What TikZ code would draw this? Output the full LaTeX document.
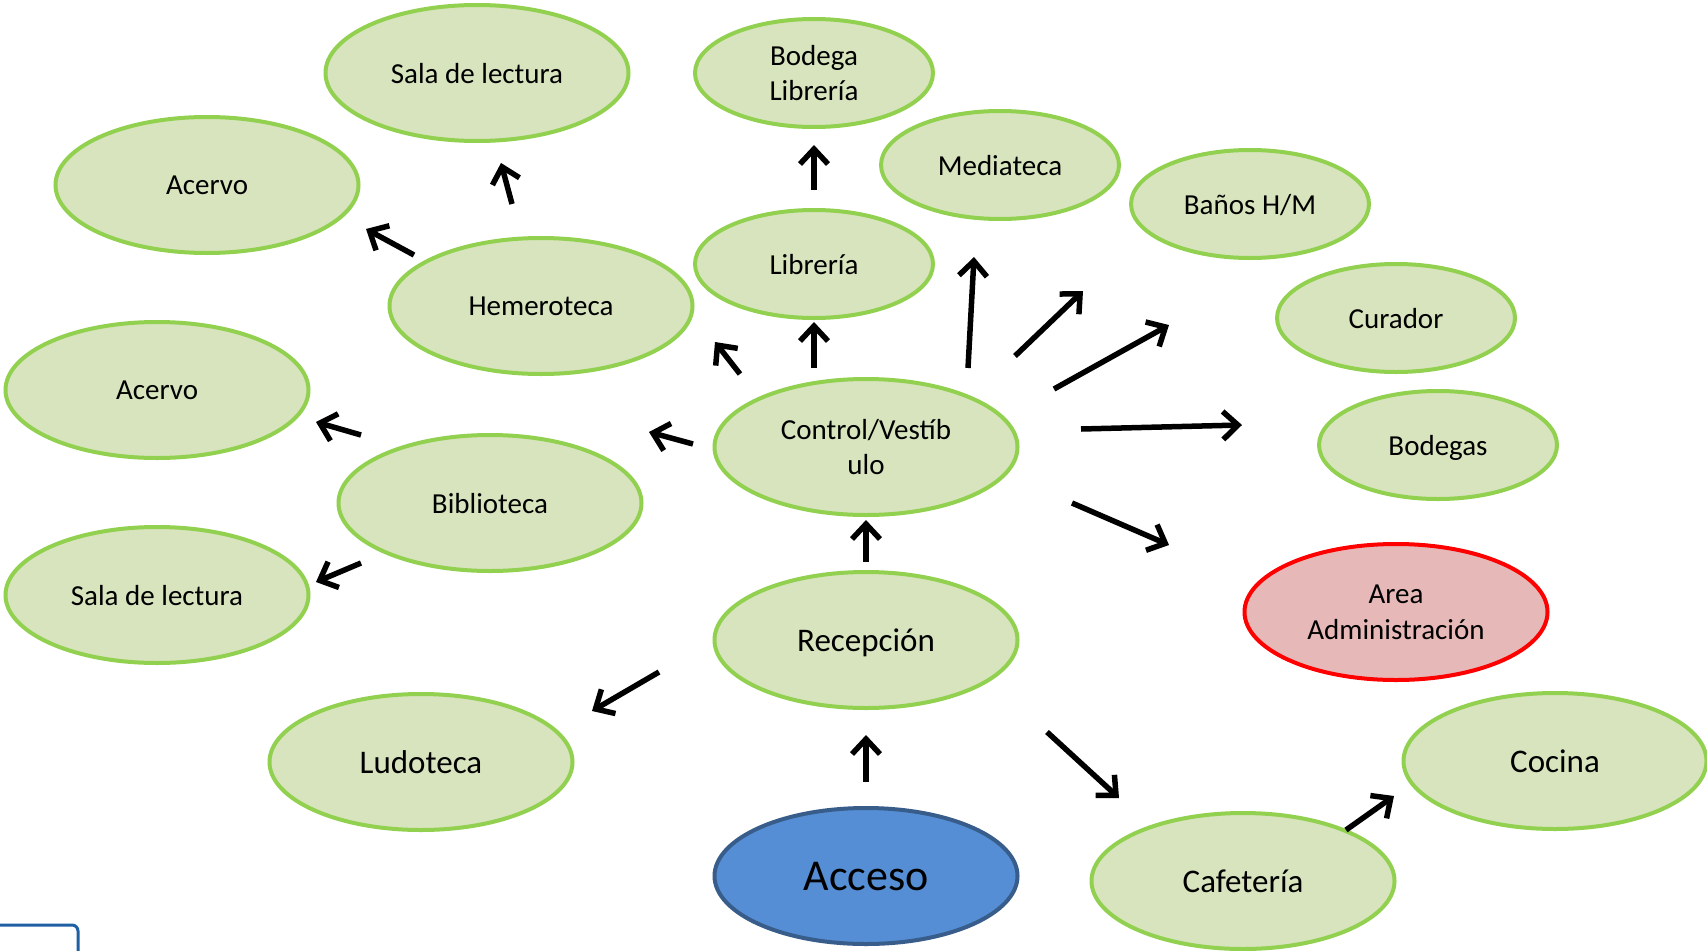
\documentclass[tikz,border=0pt]{standalone}
\usepackage{fontspec}
\setmainfont{Carlito}
\usetikzlibrary{shapes.geometric,arrows.meta}
\definecolor{gfill}{HTML}{D7E4BD}
\definecolor{gline}{HTML}{92D050}
\definecolor{rfill}{HTML}{E6B9B8}
\definecolor{rline}{HTML}{FF0000}
\definecolor{bfill}{HTML}{558ED5}
\definecolor{bline}{HTML}{385D8A}
\definecolor{boxblue}{HTML}{1F5FA3}
\tikzset{
  big/.style={ellipse, draw=gline, fill=gfill, line width=4pt, minimum width=303pt, minimum height=136pt, inner sep=0pt, align=center, font=\fontsize{29}{35.4}\selectfont, text depth=0pt},
  small/.style={ellipse, draw=gline, fill=gfill, line width=4pt, minimum width=238pt, minimum height=108pt, inner sep=0pt, align=center, font=\fontsize{29}{35.4}\selectfont, text depth=0pt},
  bigtext/.style={font=\fontsize{33}{40}\selectfont},
  redn/.style={big, draw=rline, fill=rfill},
  bluen/.style={big, draw=bline, fill=bfill, font=\fontsize{44}{52}\selectfont},
  arr/.style={line width=5.5pt, -{Straight Barb[length=15pt,width=28pt,line join=miter]}},
}
\begin{document}
\begin{tikzpicture}[x=1pt,y=-1pt]
\useasboundingbox (0,0) rectangle (1707,950);
\fill[white] (0,0) rectangle (1707,950);
% partial box at bottom-left
\draw[boxblue, line width=3pt, rounded corners=6pt] (-20,925) -- (78,925) -- (78,980);
% nodes
\node[big]   (sala1)  at (477,73)  {Sala de lectura};
\node[small] (bodlib) at (814,73)  {Bodega\\Librería};
\node[big]   (acerv1) at (207,185) {Acervo};
\node[small] (media)  at (1000,165) {Mediateca};
\node[small] (banos)  at (1250,204) {Baños H/M};
\node[small] (libre)  at (814,264) {Librería};
\node[big]   (hemero) at (541,306) {Hemeroteca};
\node[small] (curad)  at (1396,318) {Curador};
\node[big]   (acerv2) at (157,390) {Acervo};
\node[big]   (ctrl)   at (866,447) {Control/Vestíb\\ulo};
\node[small] (bodeg)  at (1438,445) {Bodegas};
\node[big]   (biblio) at (490,503) {Biblioteca};
\node[big]   (sala2)  at (157,595) {Sala de lectura};
\node[redn]  (admin)  at (1396,612) {Area\\Administración};
\node[big, bigtext] (recep) at (866,640) {Recepción};
\node[big, bigtext] (ludo)  at (421,762) {Ludoteca};
\node[big, bigtext] (cocina) at (1555,761) {Cocina};
\node[bluen] (acceso) at (866,876) {Acceso};
\node[big, bigtext] (cafe) at (1243,881) {Cafetería};
% arrow end points
\coordinate (a1s) at (512,204);  \coordinate (a1e) at (501,163);
\coordinate (a2s) at (414,255);  \coordinate (a2e) at (366,229);
\coordinate (a3s) at (814,190);  \coordinate (a3e) at (814,145);
\coordinate (a4s) at (740,374);  \coordinate (a4e) at (715,342);
\coordinate (a5s) at (814,368);  \coordinate (a5e) at (814,322);
\coordinate (a6s) at (968,368);  \coordinate (a6e) at (974,257);
\coordinate (a7s) at (1015,356); \coordinate (a7e) at (1083,291);
\coordinate (a8s) at (1054,389); \coordinate (a8e) at (1169,325);
\coordinate (a9s) at (1081,429); \coordinate (a9e) at (1242,425);
\coordinate (a10s) at (1072,503); \coordinate (a10e) at (1169,545);
\coordinate (a11s) at (693,444); \coordinate (a11e) at (649,432);
\coordinate (a12s) at (361,435); \coordinate (a12e) at (316,422);
\coordinate (a13s) at (361,563); \coordinate (a13e) at (316,582);
\coordinate (a14s) at (866,562); \coordinate (a14e) at (866,520);
\coordinate (a15s) at (659,672); \coordinate (a15e) at (592,711);
\coordinate (a16s) at (866,782); \coordinate (a16e) at (866,735);
\coordinate (a17s) at (1047,732); \coordinate (a17e) at (1119,798);
\coordinate (a18s) at (1346,830); \coordinate (a18e) at (1394,796);
\foreach \i in {1,...,18} { \draw[arr] (a\i s) -- (a\i e); }
\end{tikzpicture}
\end{document}
